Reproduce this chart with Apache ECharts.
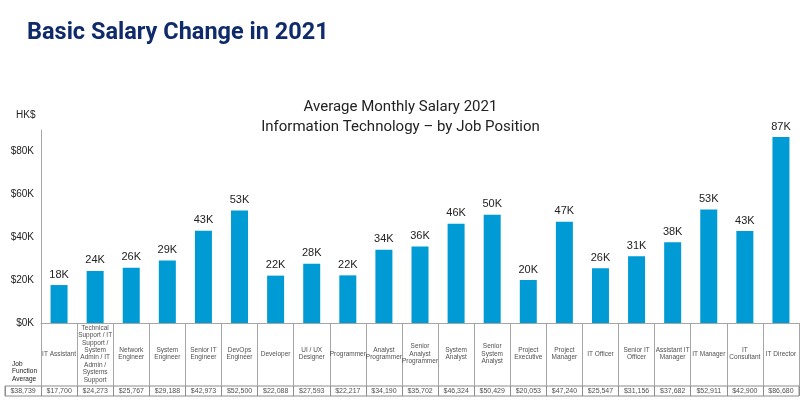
<!DOCTYPE html>
<html><head><meta charset="utf-8">
<script src="https://cdn.jsdelivr.net/npm/echarts@6/dist/echarts.min.js"></script>
<style>html,body{margin:0;padding:0;background:#fff}#c{width:801px;height:415px}</style>
</head><body><div id="c"></div>
<script>
const categories = ["IT Assistant","Technical\nSupport / IT\nSupport /\nSystem\nAdmin / IT\nAdmin /\nSystems\nSupport","Network\nEngineer","System\nEngineer","Senior IT\nEngineer","DevOps\nEngineer","Developer","UI / UX\nDesigner","Programmer","Analyst\nProgrammer","Senior\nAnalyst\nProgrammer","System\nAnalyst","Senior\nSystem\nAnalyst","Project\nExecutive","Project\nManager","IT Officer","Senior IT\nOfficer","Assistant IT\nManager","IT Manager","IT\nConsultant","IT Director"];
const salaries = [17700,24273,25767,29188,42973,52500,22088,27593,22217,34190,35702,46324,50429,20053,47240,25547,31156,37682,52911,42900,86680];
const functionAverage = 38739;
const yTicks = {min:0, max:90000, interval:20000};

const fmtMoney = v => '$' + v.toLocaleString('en-US');
const tableValues = [functionAverage].concat(salaries);
const tableCats = ['avg'].concat(categories);
const lineGrey = '#a6a6a6';
const txt = '#222';
const sans = 'Liberation Sans, Arial, sans-serif';

const chart = echarts.init(document.getElementById('c'));
chart.setOption({
  animation:false,
  textStyle:{fontFamily:sans},
  title:[
    {text:'Basic Salary Change in 2021', left:22, top:16,
     textStyle:{fontFamily:'Roboto', fontWeight:'bold', fontSize:23.5, color:'#0f2b6b'}},
    {text:'Average Monthly Salary 2021\nInformation Technology \u2013 by Job Position', left:'center', top:92,
     textStyle:{fontFamily:'Roboto', fontWeight:'normal', fontSize:15, lineHeight:20, color:txt}}
  ],
  graphic:[
    {type:'text', left:16, top:110, style:{text:'HK$', font:'10px '+sans, fill:txt}},
    {type:'text', right:801-37, top:360, style:{text:'Job\nFunction\nAverage', font:'6.5px '+sans, fill:txt, align:'right', lineHeight:7.5}}
  ],
  grid:[
    {left:41, right:2, top:130, height:193},
    {left:41, right:2, top:323, height:62},
    {left:5, right:2, top:386, height:10, show:true, borderColor:'#8c8c8c', borderWidth:1, backgroundColor:'transparent'}
  ],
  xAxis:[
    {gridIndex:0, type:'category', data:categories,
     axisLine:{lineStyle:{color:lineGrey}},
     axisTick:{show:true, interval:0, length:63, lineStyle:{color:lineGrey}},
     axisLabel:{show:false, interval:0}},
    {gridIndex:1, type:'category', data:categories, show:false},
    {gridIndex:2, type:'category', data:tableCats,
     axisLine:{show:false},
     axisTick:{show:true, interval:0, inside:true, length:10, lineStyle:{color:'#8c8c8c'}},
     axisLabel:{show:false, interval:0}}
  ],
  yAxis:[
    {gridIndex:0, type:'value', min:yTicks.min, max:yTicks.max, interval:yTicks.interval,
     axisLine:{show:true, lineStyle:{color:lineGrey}},
     axisTick:{show:false}, splitLine:{show:false},
     axisLabel:{showMaxLabel:false, color:txt, fontSize:10, margin:7, formatter:v=>'$'+(v/1000)+'K'}},
    {gridIndex:1, type:'value', min:0, max:1, show:false},
    {gridIndex:2, type:'value', min:0, max:1, show:false}
  ],
  series:[
    {type:'bar', xAxisIndex:0, yAxisIndex:0, data:salaries, barWidth:17,
     itemStyle:{color:'#009bd4'},
     label:{show:true, position:'top', distance:5, color:txt, fontSize:11,
            formatter:p=>Math.round(p.value/1000)+'K'}},
    {type:'scatter', xAxisIndex:1, yAxisIndex:1, symbolSize:1, itemStyle:{color:'rgba(0,0,0,0)'},
     data:categories.map((c,i)=>[i,0.5]),
     label:{show:true, position:'inside', color:txt, fontSize:6.5, lineHeight:7.4, align:'center', verticalAlign:'middle',
            formatter:p=>categories[p.dataIndex]}},
    {type:'scatter', xAxisIndex:2, yAxisIndex:2, symbolSize:1, itemStyle:{color:'rgba(0,0,0,0)'},
     data:tableValues.map((v,i)=>[i,0.5]),
     label:{show:true, position:'inside', color:txt, fontSize:7, align:'center', verticalAlign:'middle',
            formatter:p=>fmtMoney(tableValues[p.dataIndex])}}
  ]
});
</script></body></html>
